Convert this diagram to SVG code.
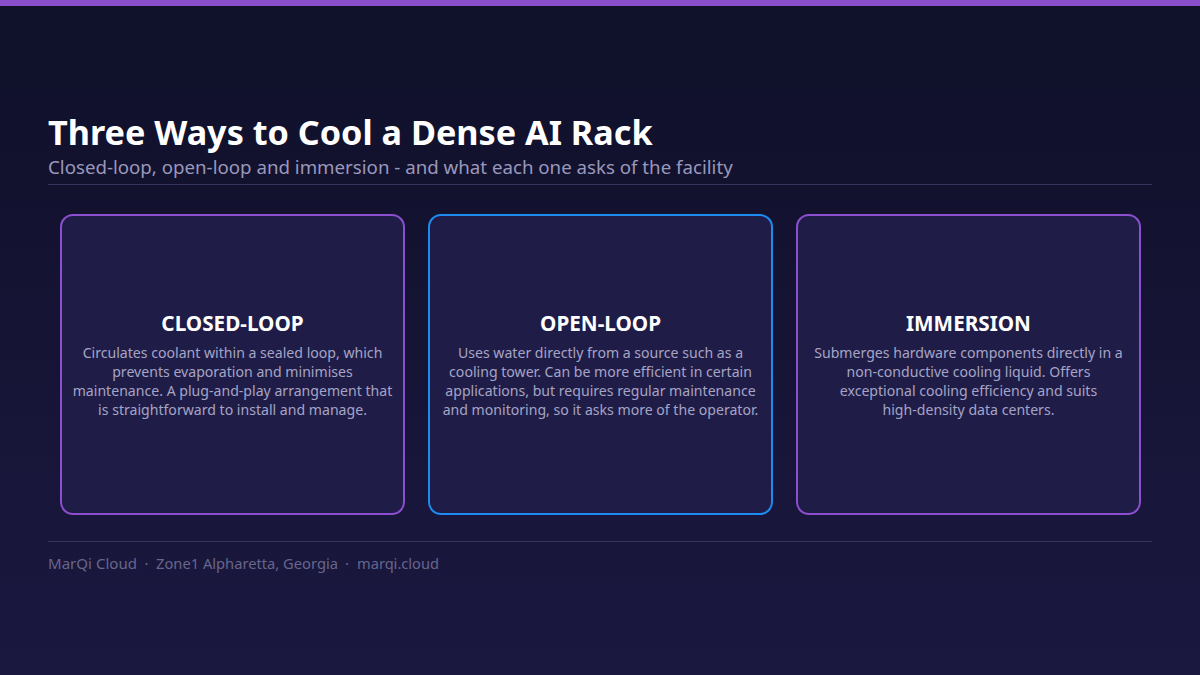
<svg xmlns="http://www.w3.org/2000/svg" width="1200" height="675" viewBox="0 0 1200 675">
<defs>
<linearGradient id="bg" x1="0" y1="0" x2="0" y2="1">
<stop offset="0" stop-color="#0f1029"/>
<stop offset="1" stop-color="#1b1840"/>
</linearGradient>
<style>
.f{font-family:"Noto Sans","Open Sans","Liberation Sans",sans-serif}
.card{fill:#1f1d47;stroke-width:2}
.pur{stroke:#8c4fd0}
.blu{stroke:#1d8bf0}
.ct{font-size:20.7px;font-weight:700;fill:#ffffff;text-anchor:middle}
.cb{font-size:14.1px;fill:#a6a4c6;text-anchor:middle}
.rule{stroke:#36355c;stroke-width:1}
.ft{font-size:14.7px;fill:#67668c}
</style>
</defs>
<rect width="1200" height="675" fill="url(#bg)"/>
<rect width="1200" height="6" fill="#8a4fcb"/>
<text class="f" x="48" y="145" font-size="34.2" font-weight="700" fill="#ffffff">Three Ways to Cool a Dense AI Rack</text>
<text class="f" x="48" y="174" font-size="18.7" fill="#9a98bb">Closed-loop, open-loop and immersion - and what each one asks of the facility</text>
<line class="rule" x1="48" y1="184.5" x2="1152" y2="184.5"/>
<g id="closed-loop">
<rect class="card pur" x="61" y="215" width="343" height="299" rx="12"/>
<text class="f ct" x="232.5" y="331">CLOSED-LOOP</text>
<text class="f cb"><tspan x="232.5" y="358">Circulates coolant within a sealed loop, which</tspan><tspan x="232.5" y="377">prevents evaporation and minimises</tspan><tspan x="232.5" y="396">maintenance. A plug-and-play arrangement that</tspan><tspan x="232.5" y="415">is straightforward to install and manage.</tspan></text>
</g>
<g id="open-loop">
<rect class="card blu" x="429" y="215" width="343" height="299" rx="12"/>
<text class="f ct" x="600.5" y="331">OPEN-LOOP</text>
<text class="f cb"><tspan x="600.5" y="358">Uses water directly from a source such as a</tspan><tspan x="600.5" y="377">cooling tower. Can be more efficient in certain</tspan><tspan x="600.5" y="396">applications, but requires regular maintenance</tspan><tspan x="600.5" y="415">and monitoring, so it asks more of the operator.</tspan></text>
</g>
<g id="immersion">
<rect class="card pur" x="797" y="215" width="343" height="299" rx="12"/>
<text class="f ct" x="968.5" y="331">IMMERSION</text>
<text class="f cb"><tspan x="968.5" y="358">Submerges hardware components directly in a</tspan><tspan x="968.5" y="377">non-conductive cooling liquid. Offers</tspan><tspan x="968.5" y="396">exceptional cooling efficiency and suits</tspan><tspan x="968.5" y="415">high-density data centers.</tspan></text>
</g>
<g id="connectors"/>
<line class="rule" x1="48" y1="541.5" x2="1152" y2="541.5"/>
<text class="f ft" y="569"><tspan x="48" textLength="89" lengthAdjust="spacingAndGlyphs">MarQi Cloud</tspan><tspan x="144.5">·</tspan><tspan x="156" textLength="182" lengthAdjust="spacingAndGlyphs">Zone1 Alpharetta, Georgia</tspan><tspan x="345">·</tspan><tspan x="357" textLength="82" lengthAdjust="spacingAndGlyphs">marqi.cloud</tspan></text>
</svg>
